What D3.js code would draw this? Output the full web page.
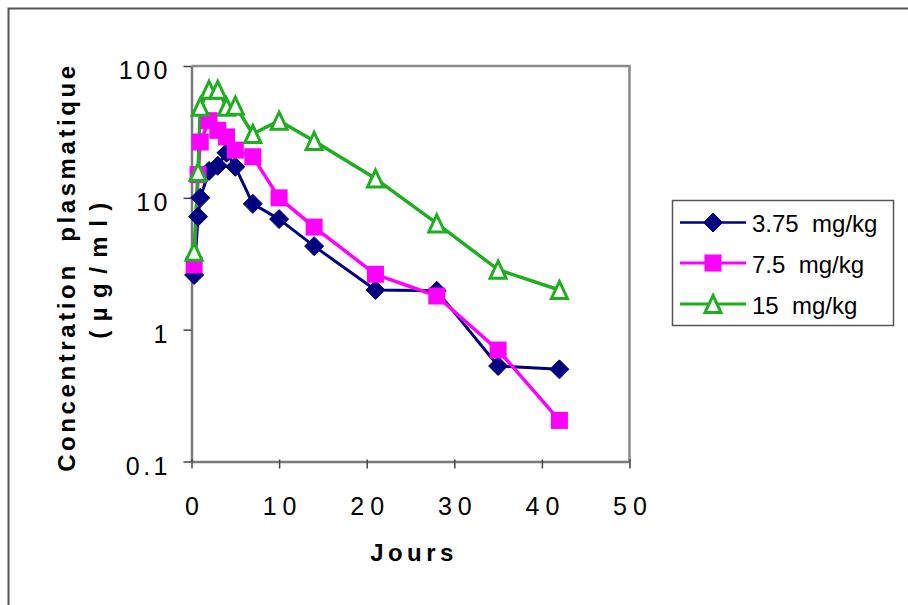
<!DOCTYPE html>
<html>
<head>
<meta charset="utf-8">
<script src="https://cdn.jsdelivr.net/npm/d3@7"></script>
<style>
  html, body { margin: 0; padding: 0; background: #fff; }
  svg { display: block; font-family: "Liberation Sans", Arial, sans-serif; }
</style>
</head>
<body>
<svg id="chart" width="908" height="605"></svg>
<script>
// Sampling times (days)
const days = [0.3, 0.75, 1, 2, 3, 4, 5, 7, 10, 14, 21, 28, 35, 42];

// Plasma concentration (µg/ml) for each dose group
const dose375 = [2.6, 7.2, 10, 16, 17.5, 22, 17.2, 9.0, 6.9, 4.3, 2.0, 1.97, 0.53, 0.5];
const dose75  = [3.1, 15, 26.5, 38.5, 32.5, 29, 23, 20.5, 10, 6.0, 2.63, 1.8, 0.7, 0.205];
const dose15  = [3.9, 15.7, 49, 66, 66, 49, 50, 30.5, 38.5, 27, 14, 6.4, 2.85, 2.0];

const seriesNames = ["3.75  mg/kg", "7.5  mg/kg", "15  mg/kg"];
const seriesColors = ["#000080", "#ff00ff", "#1fae1f"];
const seriesMarkers = ["diamond", "square", "triangle"];

const xTicks = [0, 10, 20, 30, 40, 50];
const yTicks = [0.1, 1, 10, 100];
const yTickLabels = ["0.1", "1", "10", "100"];

const svg = d3.select("#chart");

// Chart frame
svg.append("rect")
  .attr("x", 8.5).attr("y", 8.5)
  .attr("width", 920).attr("height", 620)
  .attr("fill", "#fff").attr("stroke", "#555").attr("stroke-width", 2);

const x = d3.scaleLinear().domain([0, 50]).range([191.5, 629.5]);
const y = d3.scaleLog().domain([0.1, 100]).range([461.5, 66]);

// Plot area border (top and right)
svg.append("path")
  .attr("d", `M${x(0)},${y(100)}H${x(50)}V${y(0.1)}`)
  .attr("fill", "none").attr("stroke", "#8a8a8a").attr("stroke-width", 2.5);

// Y axis
const yAxis = svg.append("g")
  .attr("transform", `translate(${x(0)},0)`)
  .call(d3.axisLeft(y).tickValues(yTicks).tickFormat((d, i) => yTickLabels[i]).tickSize(8).tickSizeOuter(0));
yAxis.select(".domain").attr("stroke", "#7a7a7a").attr("stroke-width", 2.5);
yAxis.selectAll(".tick line").attr("stroke", "#444").attr("stroke-width", 1.5);
yAxis.selectAll(".tick text")
  .attr("x", -20.5).attr("dy", 12.5)
  .style("font-size", "25px").style("letter-spacing", "3.5px")
  .attr("fill", "#000");

// X axis
const xAxis = svg.append("g")
  .attr("transform", `translate(0,${y(0.1)})`)
  .call(d3.axisBottom(x).tickValues(xTicks).tickFormat(d3.format("d")).tickSize(7).tickSizeOuter(0));
xAxis.select(".domain").attr("stroke", "#7a7a7a").attr("stroke-width", 2.5);
xAxis.selectAll(".tick line").attr("stroke", "#444").attr("stroke-width", 1.5).attr("y1", -2);
xAxis.selectAll(".tick text")
  .attr("y", 53.5).attr("dy", 0).attr("dx", 3)
  .style("font-size", "25px").style("letter-spacing", "6px")
  .attr("fill", "#000");

// Axis titles
svg.append("text")
  .attr("transform", "translate(74.5,267) rotate(-90)")
  .attr("text-anchor", "middle")
  .style("white-space", "pre")
  .style("font-size", "24px").style("font-weight", "bold").style("letter-spacing", "3.6px")
  .text("Concentration  plasmatique");
svg.append("text")
  .attr("transform", "translate(106.5,266) rotate(-90)")
  .attr("text-anchor", "middle")
  .style("font-size", "24px").style("font-weight", "bold").style("letter-spacing", "9.5px")
  .text("(µg/ml)");
svg.append("text")
  .attr("x", 414).attr("y", 561)
  .attr("text-anchor", "middle")
  .style("font-size", "24px").style("font-weight", "bold").style("letter-spacing", "4.4px")
  .text("Jours");

// Marker drawing
function drawMarker(g, type, color) {
  if (type === "diamond") {
    g.append("path").attr("d", "M0,-9.5L9.5,0L0,9.5L-9.5,0Z")
      .attr("fill", color).attr("stroke", color).attr("stroke-width", 1);
  } else if (type === "square") {
    g.append("rect").attr("x", -8.5).attr("y", -8.5).attr("width", 17).attr("height", 17)
      .attr("fill", color);
  } else {
    g.append("path").attr("d", "M0,-8.5L8,8.5L-8,8.5Z")
      .attr("fill", "#fff").attr("stroke", color).attr("stroke-width", 3)
      .attr("stroke-linejoin", "miter");
  }
}

const series = [dose375, dose75, dose15].map((vals, i) => ({
  name: seriesNames[i], color: seriesColors[i], marker: seriesMarkers[i],
  pts: days.map((d, j) => ({ d, v: vals[j] }))
}));
const lineWidths = [3, 3.5, 3.5];

const line = d3.line().x(p => x(p.d)).y(p => y(p.v));

// Lines first, then markers
series.forEach((s, i) => {
  svg.append("path").datum(s.pts).attr("d", line)
    .attr("fill", "none").attr("stroke", s.color).attr("stroke-width", lineWidths[i])
    .attr("stroke-linejoin", "round");
});
series.forEach(s => {
  s.pts.forEach(p => {
    const g = svg.append("g").attr("transform", `translate(${x(p.d)},${y(p.v)})`);
    drawMarker(g, s.marker, s.color);
  });
});

// Legend
const legend = svg.append("g");
legend.append("rect")
  .attr("x", 672.5).attr("y", 200.5).attr("width", 221).attr("height", 125)
  .attr("fill", "#fff").attr("stroke", "#555").attr("stroke-width", 1.5);
const rowY = [222.5, 263, 304];
series.forEach((s, i) => {
  const gy = rowY[i];
  legend.append("line").attr("x1", 680).attr("x2", 746).attr("y1", gy).attr("y2", gy)
    .attr("stroke", s.color).attr("stroke-width", lineWidths[i] - 0.5);
  const g = legend.append("g").attr("transform", `translate(713,${gy})`);
  drawMarker(g, s.marker, s.color);
  legend.append("text").attr("x", 752).attr("y", gy + 9.5)
    .style("white-space", "pre").style("font-size", "24px")
    .text(s.name);
});
</script>
</body>
</html>
